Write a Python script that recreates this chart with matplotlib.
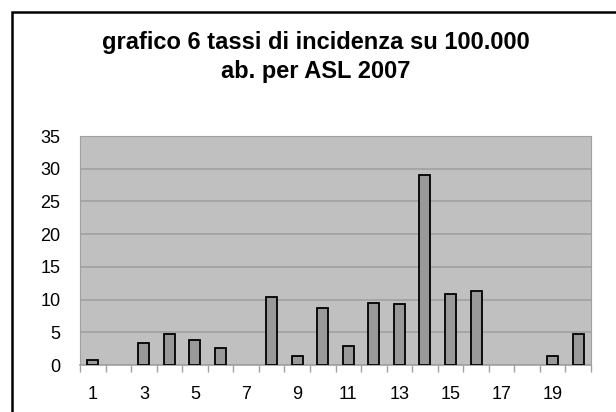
import matplotlib
matplotlib.use("Agg")
import matplotlib.pyplot as plt
import numpy as np

# tassi per ASL (1..20)
asl = list(range(1, 21))
tassi = [0.7, 0, 3.3, 4.8, 3.8, 2.6, 0, 10.4, 1.3, 8.7,
         2.9, 9.5, 9.3, 29.0, 10.9, 11.3, 0, 0, 1.4, 4.8]
yticks = [0, 5, 10, 15, 20, 25, 30, 35]
xlabels = ["1", "3", "5", "7", "9", "11", "13", "15", "17", "19"]

plt.rcParams['font.family'] = ['Liberation Sans', 'DejaVu Sans']

W, H = 616, 412
fig = plt.figure(figsize=(W / 100, H / 100), dpi=100)
fig.patch.set_facecolor("white")

# cornice esterna del grafico
frame = plt.Rectangle((12 / W, -0.1), 1.2, (H - 12) / H + 0.1,
                      transform=fig.transFigure, fill=False,
                      edgecolor="black", linewidth=1.8)
fig.patches.append(frame)

ax = fig.add_axes([80 / W, (H - 365) / H, (591 - 80) / W, (365 - 136) / H])
ax.set_facecolor("#c0c0c0")

x = np.arange(len(asl))
# niente bordo per le barre a zero
edges = ["black" if v > 0 else "none" for v in tassi]
ax.bar(x, tassi, width=0.43, color="#999999", edgecolor=edges,
       linewidth=1.3, zorder=3)

ax.set_xlim(-0.5, len(asl) - 0.5)
ax.set_ylim(0, 35)
ax.set_yticks(yticks)
ax.set_yticklabels([str(v) for v in yticks], fontsize=13)
ax.tick_params(axis="y", length=0, pad=14)
ax.grid(axis="y", color="#a0a0a0", linewidth=1.2, zorder=1)

# tacche tra le categorie, etichette ogni due
ax.set_xticks(np.arange(-0.5, len(asl), 1), minor=False)
ax.set_xticklabels([])
ax.tick_params(axis="x", length=5, color="#a0a0a0", width=1)
ax.set_xticks(x[::2], minor=True)
ax.set_xticklabels(xlabels, minor=True, fontsize=13)
ax.tick_params(axis="x", which="minor", length=0, pad=15)

for side in ["top", "right", "left", "bottom"]:
    ax.spines[side].set_color("#a0a0a0")
ax.spines["bottom"].set_linewidth(1.2)

fig.text(316 / W, 1 - 49 / H, "grafico 6 tassi di incidenza su 100.000",
         ha="center", va="baseline", fontsize=17, fontweight="bold")
fig.text(316 / W, 1 - 78 / H, "ab. per ASL 2007",
         ha="center", va="baseline", fontsize=17, fontweight="bold")

fig.savefig("out.png", dpi=100, facecolor="white")
